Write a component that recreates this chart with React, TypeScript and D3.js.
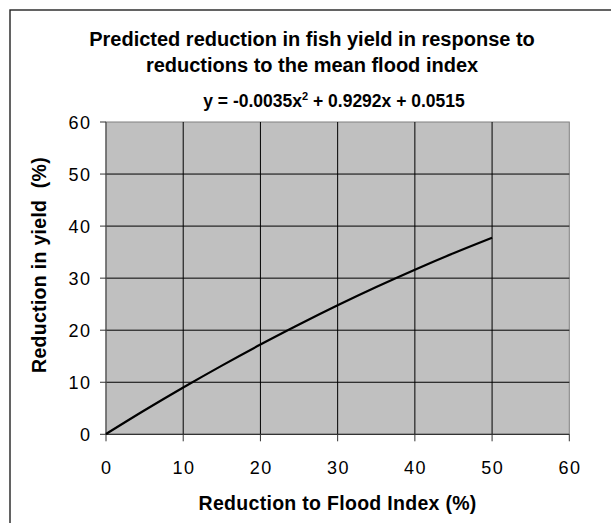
import React from "react";
import * as d3 from "d3";

const floodReduction = [0, 5, 10, 15, 20, 25, 30, 35, 40, 45, 50];
const yieldReduction = [0.05, 4.61, 8.99, 13.2, 17.24, 21.09, 24.78, 28.29, 31.62, 34.78, 37.76];
const xTicks = [0, 10, 20, 30, 40, 50, 60];
const yTicks = [0, 10, 20, 30, 40, 50, 60];
const titleLines = [
  "Predicted reduction in fish yield in response to",
  "reductions to the mean flood index",
];
const xTitle = "Reduction to Flood Index (%)";
const yTitle = "Reduction in yield  (%)";

const W = 611;
const H = 523;
const FONT = "'Liberation Sans', Arial, Helvetica, sans-serif";

export default function App() {
  const left = 106, right = 569.3, top = 122, bottom = 434.3;
  const x = d3.scaleLinear().domain([0, 60]).range([left, right]);
  const y = d3.scaleLinear().domain([0, 60]).range([bottom, top]);
  const pts: [number, number][] = floodReduction.map((v, i) => [v, yieldReduction[i]]);
  const line = d3
    .line<[number, number]>()
    .x((d) => x(d[0]))
    .y((d) => y(d[1]))
    .curve(d3.curveMonotoneX);
  const ls = 1.5;

  return (
    <svg
      width={W}
      height={H}
      style={{ position: "absolute", left: 0, top: 0, display: "block", background: "#fff" }}
      fontFamily={FONT}
    >
      <rect x={10} y={10} width={W + 10} height={H + 10} fill="#fff" stroke="#222" strokeWidth={1.4} />
      <text x={312} y={46} textAnchor="middle" fontWeight="bold" fontSize={20} fill="#000">
        {titleLines[0]}
      </text>
      <text x={312} y={72} textAnchor="middle" fontWeight="bold" fontSize={20} fill="#000">
        {titleLines[1]}
      </text>
      <text x={334} y={107} textAnchor="middle" fontWeight="bold" fontSize={17.5} fill="#000">
        <tspan>y = -0.0035x</tspan>
        <tspan dy={-7} fontSize={11}>2</tspan>
        <tspan dy={7}> + 0.9292x + 0.0515</tspan>
      </text>

      <rect x={left} y={top} width={right - left} height={bottom - top} fill="#C0C0C0" stroke="#808080" strokeWidth={1} />
      {xTicks.slice(1, -1).map((t) => (
        <line key={"gx" + t} x1={x(t)} x2={x(t)} y1={top} y2={bottom} stroke="#000" strokeWidth={1} />
      ))}
      {yTicks.slice(1, -1).map((t) => (
        <line key={"gy" + t} x1={left} x2={right} y1={y(t)} y2={y(t)} stroke="#000" strokeWidth={1} />
      ))}
      <line x1={left} x2={left} y1={top} y2={bottom} stroke="#555" strokeWidth={1.2} />
      <line x1={left} x2={right} y1={bottom} y2={bottom} stroke="#333" strokeWidth={1.2} />
      {xTicks.map((t) => (
        <g key={"tx" + t}>
          <line x1={x(t)} x2={x(t)} y1={bottom} y2={bottom + 7} stroke="#333" strokeWidth={1} />
          <text x={x(t) + ls / 2} y={474} textAnchor="middle" fontSize={18} letterSpacing={ls} fill="#000">
            {t}
          </text>
        </g>
      ))}
      {yTicks.map((t) => (
        <g key={"ty" + t}>
          <line x1={left - 6} x2={left} y1={y(t)} y2={y(t)} stroke="#333" strokeWidth={1} />
          <text x={90 + ls} y={y(t) + 6.5} textAnchor="end" fontSize={18} letterSpacing={ls} fill="#000">
            {t}
          </text>
        </g>
      ))}
      <path d={line(pts) || ""} fill="none" stroke="#000" strokeWidth={2.2} />
      <text x={337.6} y={510} textAnchor="middle" fontWeight="bold" fontSize={19.5} letterSpacing={0.3} fill="#000">
        {xTitle}
      </text>
      <text
        transform={`translate(46,265) rotate(-90)`}
        textAnchor="middle"
        fontWeight="bold"
        fontSize={19.5}
        letterSpacing={0.3}
        fill="#000"
        style={{ whiteSpace: "pre" }}
      >
        {yTitle}
      </text>
    </svg>
  );
}
